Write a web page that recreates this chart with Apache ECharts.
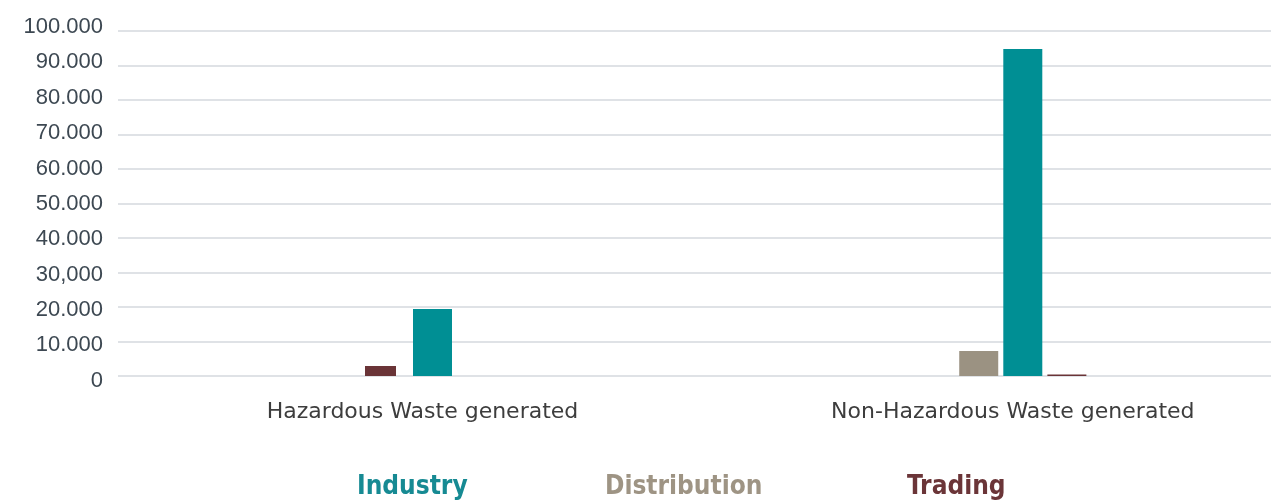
<!DOCTYPE html>
<html>
<head>
<meta charset="utf-8">
<script src="https://cdn.jsdelivr.net/npm/echarts@6/dist/echarts.min.js"></script>
<style>
html,body{margin:0;padding:0;background:#fff;}
#chart{width:1271px;height:500px;}
</style>
</head>
<body>
<div id="chart"></div>
<script>
const categories = ['Hazardous Waste generated', 'Non-Hazardous Waste generated'];
const industry = [19400, 94800];
const distribution = [null, 7250];
const tradingMain = [null, 400];
const tradingHaz = [2900, null];
const yTickLabels = ['0', '10.000', '20.000', '30,000', '40.000', '50.000', '60.000', '70.000', '80.000', '90.000', '100.000'];
const legendNames = ['Industry', 'Distribution', 'Trading'];

const colTeal = '#008f94', colGray = '#9b9282', colRed = '#6a3437';
const legendColors = ['#168a93', '#9e9484', '#6b3538'];
const legendLefts = [347, 595, 897];

const chart = echarts.init(document.getElementById('chart'));
const legendFont = { fontFamily: 'DejaVu Sans Condensed', fontWeight: 'bold', fontSize: 26, lineHeight: 26 };

const option = {
  animation: false,
  grid: [
    { left: 118, right: 0, top: 31, bottom: 124 },
    { left: 118, right: 0, top: 27, bottom: 119.3 },
    { left: 432.5, width: 590.3, top: 31, bottom: 124 },
    { left: 380.5, width: 590.3, top: 31, bottom: 124 }
  ],
  xAxis: [
    { type: 'category', gridIndex: 0, data: categories, show: false },
    { type: 'category', gridIndex: 1, data: categories, show: false },
    { type: 'category', gridIndex: 2, data: categories, boundaryGap: false,
      axisLine: { show: false }, axisTick: { show: false }, splitLine: { show: false },
      axisLabel: { margin: 25, color: '#3d3d3d', fontFamily: 'DejaVu Sans', fontSize: 22, padding: [0, 20, 0, 0] } },
    { type: 'category', gridIndex: 3, data: categories, boundaryGap: false, show: false }
  ],
  yAxis: [
    { type: 'value', gridIndex: 0, min: 0, max: 100000, interval: 10000,
      axisLabel: { show: false }, axisLine: { show: false }, axisTick: { show: false },
      splitLine: { lineStyle: { color: '#dfe2e6', width: 2 } } },
    { type: 'value', gridIndex: 1, min: 0, max: 100000, interval: 10000,
      axisLine: { show: false }, axisTick: { show: false }, splitLine: { show: false },
      axisLabel: { margin: 15, color: '#3d4852', fontFamily: 'Liberation Sans', fontSize: 22,
        formatter: v => yTickLabels[Math.round(v / 10000)] } },
    { type: 'value', gridIndex: 2, min: 0, max: 100000, show: false, splitLine: { show: false } },
    { type: 'value', gridIndex: 3, min: 0, max: 100000, show: false, splitLine: { show: false } }
  ],
  legend: legendNames.map((n, i) => ({
    data: [{ name: n, textStyle: Object.assign({ color: legendColors[i] }, legendFont) }],
    left: legendLefts[i], top: 469, itemWidth: 0, itemHeight: 0, icon: 'rect',
    selectedMode: false, textStyle: legendFont
  })),
  series: [
    { name: 'Distribution', type: 'bar', xAxisIndex: 2, yAxisIndex: 2, data: distribution,
      barWidth: 39, barGap: '13%', itemStyle: { color: colGray } },
    { name: 'Industry', type: 'bar', xAxisIndex: 2, yAxisIndex: 2, data: industry,
      barWidth: 39, barGap: '13%', itemStyle: { color: colTeal } },
    { name: 'Trading', type: 'bar', xAxisIndex: 2, yAxisIndex: 2, data: tradingMain,
      barWidth: 39, barGap: '13%', itemStyle: { color: colRed } },
    { name: 'Trading', type: 'bar', xAxisIndex: 3, yAxisIndex: 3, data: tradingHaz,
      barWidth: 31, itemStyle: { color: colRed } }
  ]
};
chart.setOption(option);
</script>
</body>
</html>
